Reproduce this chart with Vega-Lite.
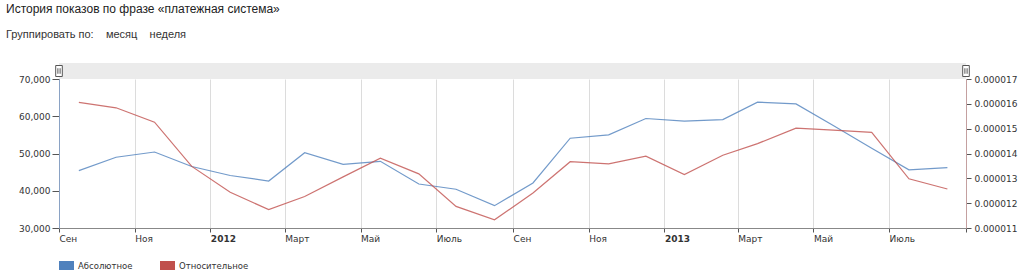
{
  "$schema": "https://vega.github.io/schema/vega-lite/v6.json",
  "padding": {"left": 6, "top": 3, "right": 4, "bottom": 0},
  "background": "white",
  "bounds": "flush",
  "title": {
    "text": "История показов по фразе «платежная система»",
    "subtitle": "Группировать по:\u00a0\u00a0\u00a0\u00a0месяц\u00a0\u00a0\u00a0\u00a0неделя",
    "anchor": "start",
    "frame": "bounds",
    "font": "Liberation Sans",
    "fontSize": 12,
    "fontWeight": "normal",
    "color": "#222222",
    "subtitleFont": "Liberation Sans",
    "subtitleFontSize": 11,
    "subtitleColor": "#333333",
    "subtitlePadding": 13,
    "offset": 22
  },
  "datasets": {
    "handles": [
      {"date": "2011-09-01"},
      {"date": "2013-09-01"}
    ],
    "series": [
      {"date": "2011-09-17", "abs": 45400, "rel": 0.00001606},
      {"date": "2011-10-17", "abs": 49000, "rel": 0.00001584},
      {"date": "2011-11-17", "abs": 50400, "rel": 0.00001526},
      {"date": "2011-12-17", "abs": 46500, "rel": 0.00001348},
      {"date": "2012-01-17", "abs": 44100, "rel": 0.00001244},
      {"date": "2012-02-17", "abs": 42600, "rel": 0.00001174},
      {"date": "2012-03-17", "abs": 50200, "rel": 0.00001227},
      {"date": "2012-04-17", "abs": 47100, "rel": 0.00001306},
      {"date": "2012-05-17", "abs": 47900, "rel": 0.00001381},
      {"date": "2012-06-17", "abs": 41800, "rel": 0.00001318},
      {"date": "2012-07-17", "abs": 40400, "rel": 0.00001187},
      {"date": "2012-08-17", "abs": 36000, "rel": 0.00001133},
      {"date": "2012-09-17", "abs": 42100, "rel": 0.00001241},
      {"date": "2012-10-17", "abs": 54100, "rel": 0.00001367},
      {"date": "2012-11-17", "abs": 55000, "rel": 0.00001358},
      {"date": "2012-12-17", "abs": 59400, "rel": 0.00001389},
      {"date": "2013-01-17", "abs": 58700, "rel": 0.00001315},
      {"date": "2013-02-17", "abs": 59100, "rel": 0.00001393},
      {"date": "2013-03-17", "abs": 63800, "rel": 0.00001440},
      {"date": "2013-04-17", "abs": 63300, "rel": 0.00001502},
      {"date": "2013-05-17", "abs": 57500, "rel": 0.00001494},
      {"date": "2013-06-17", "abs": 51400, "rel": 0.00001485},
      {"date": "2013-07-17", "abs": 45600, "rel": 0.00001298},
      {"date": "2013-08-17", "abs": 46200, "rel": 0.00001257}
    ]
  },
  "spacing": 0,
  "vconcat": [
    {
      "width": 907,
      "height": 16,
      "data": {"name": "handles"},
      "view": {"fill": "#ebebeb", "stroke": null},
      "layer": [
        {
          "mark": {"type": "point", "shape": "M-0.6,-1H0.6V1H-0.6Z", "size": 121, "filled": true, "fill": "white", "stroke": "#555555", "strokeWidth": 1, "opacity": 1},
          "encoding": {
            "x": {"field": "date", "type": "temporal", "axis": null,
              "scale": {"type": "utc", "nice": false, "domain": [{"year": 2011, "month": 9, "date": 1, "utc": true}, {"year": 2013, "month": 9, "date": 1, "utc": true}]}}
          }
        },
        {
          "mark": {"type": "point", "shape": "M-0.2,-0.5V0.5M0.2,-0.5V0.5", "size": 121, "filled": false, "stroke": "#555555", "strokeWidth": 1, "opacity": 1},
          "encoding": {
            "x": {"field": "date", "type": "temporal", "axis": null}
          }
        }
      ]
    },
    {
      "width": 907,
      "height": 149,
      "data": {"name": "series"},
      "layer": [
        {
          "mark": {"type": "line", "strokeWidth": 1.2, "opacity": 0.8},
          "encoding": {
            "x": {
              "field": "date", "type": "temporal",
              "scale": {"type": "utc", "nice": false, "domain": [{"year": 2011, "month": 9, "date": 1, "utc": true}, {"year": 2013, "month": 9, "date": 1, "utc": true}]},
              "axis": {
                "title": null,
                "tickCount": {"interval": "month", "step": 2},
                "labelExpr": "(utcyear(datum.value)==2013 && utcmonth(datum.value)==8) ? '' : (utcmonth(datum.value)==0 ? ''+utcyear(datum.value) : ['Янв','Фев','Март','Апр','Май','Июнь','Июль','Авг','Сен','Окт','Ноя','Дек'][utcmonth(datum.value)])",
                "labelFontWeight": {"condition": {"test": "utcmonth(datum.value)==0", "value": "bold"}, "value": "normal"},
                "labelAlign": "left",
                "labelPadding": 2,
                "labelFlush": false,
                "labelOverlap": false,
                "tickSize": 4,
                "grid": true,
                "gridColor": "#dcdcdc",
                "domainColor": "#888888",
                "tickColor": "#555555"
              }
            },
            "y": {
              "field": "abs", "type": "quantitative",
              "scale": {"domain": [30000, 70000], "nice": false, "zero": false},
              "axis": {"orient": "left", "title": null, "grid": false, "values": [30000, 40000, 50000, 60000, 70000], "format": ",d", "domainColor": "#8aa2c4", "tickSize": 7, "labelPadding": 2, "tickColor": "#555555", "minExtent": 53}
            },
            "color": {
              "datum": "Абсолютное", "type": "nominal",
              "scale": {"domain": ["Абсолютное", "Относительное"], "range": ["#4f81bd", "#c0504d"]},
              "legend": {
                "orient": "bottom", "direction": "horizontal", "title": null,
                "symbolType": "M-1,-0.6H1V0.6H-1Z", "symbolSize": 225,
                "symbolStrokeWidth": 0, "symbolOpacity": 1,
                "labelFont": "DejaVu Sans", "labelFontSize": 8.5, "labelColor": "#333333",
                "columnPadding": 27, "offset": 15,
                "encode": {"symbols": {"update": {"fill": {"scale": "color", "field": "value"}, "strokeWidth": {"value": 0}, "opacity": {"value": 1}}}}
              }
            }
          }
        },
        {
          "mark": {"type": "line", "strokeWidth": 1.2, "opacity": 0.8},
          "encoding": {
            "x": {"field": "date", "type": "temporal"},
            "y": {
              "field": "rel", "type": "quantitative",
              "scale": {"domain": [0.000011, 0.000017], "nice": false, "zero": false},
              "axis": {"orient": "right", "title": null, "grid": false, "values": [0.000011, 0.000012, 0.000013, 0.000014, 0.000015, 0.000016, 0.000017], "format": ".6f", "domainColor": "#c4a0a0", "tickSize": 5, "labelPadding": 3, "tickColor": "#555555"}
            },
            "color": {"datum": "Относительное", "type": "nominal"}
          }
        }
      ],
      "resolve": {"scale": {"y": "independent"}}
    }
  ],
  "config": {
    "view": {"stroke": null},
    "axis": {"labelFont": "DejaVu Sans", "labelFontSize": 9, "labelColor": "#333333"}
  }
}
